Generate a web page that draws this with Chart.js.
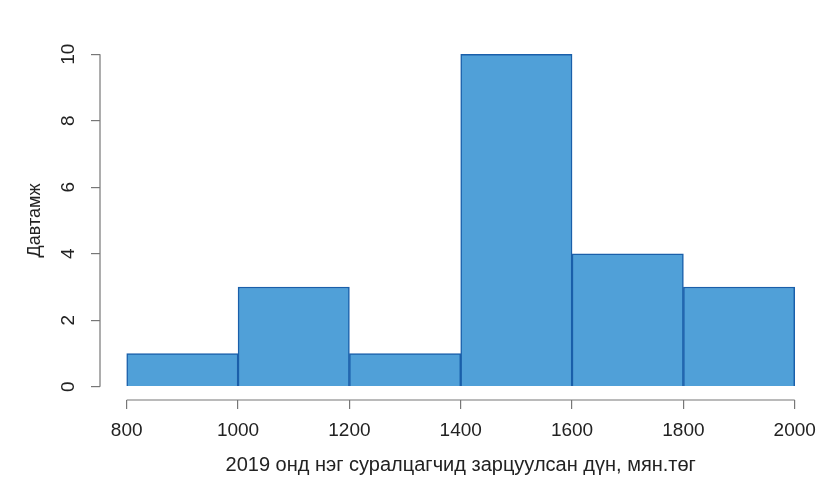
<!DOCTYPE html>
<html>
<head>
<meta charset="utf-8">
<script src="https://cdn.jsdelivr.net/npm/chart.js@4"></script>
<style>
  html, body { margin: 0; padding: 0; background: #fff; }
  #wrap { width: 826px; height: 480px; }
</style>
</head>
<body>
<div id="wrap"><canvas id="hist"></canvas></div>
<script>
// histogram bins (lower/upper edge) and frequencies
const binStart = [800, 1000, 1200, 1400, 1600, 1800];
const binEnd = [1000, 1200, 1400, 1600, 1800, 2000];
const counts = [1, 3, 1, 10, 4, 3];
const xTicks = [800, 1000, 1200, 1400, 1600, 1800, 2000];
const yTicks = [0, 2, 4, 6, 8, 10];

const xTitle = '2019 онд нэг суралцагчид зарцуулсан дүн, мян.төг';
const yTitle = 'Давтамж';

const txt = '#222';
const axisCol = '#777';
const fam = 'Liberation Sans, Arial, sans-serif';
const tickFont = { family: fam, size: 19 };

// R style axis lines: only from first to last tick
const axisLines = {
  id: 'axisLines',
  afterDraw(chart) {
    const ctx = chart.ctx;
    const xs = chart.scales.x, ys = chart.scales.y;
    ctx.save();
    ctx.strokeStyle = axisCol;
    ctx.lineWidth = 1.2;
    ctx.beginPath();
    const yb = chart.chartArea.bottom;
    ctx.moveTo(xs.getPixelForValue(xTicks[0]), yb);
    ctx.lineTo(xs.getPixelForValue(xTicks[xTicks.length - 1]), yb);
    const xl = chart.chartArea.left;
    ctx.moveTo(xl, ys.getPixelForValue(yTicks[0]));
    ctx.lineTo(xl, ys.getPixelForValue(yTicks[yTicks.length - 1]));
    ctx.stroke();
    ctx.restore();
  }
};

new Chart(document.getElementById('hist'), {
  type: 'bar',
  data: {
    datasets: [{
      data: binStart.map((a, i) => ({ x: (a + binEnd[i]) / 2, y: counts[i] })),
      backgroundColor: '#50a0d8',
      borderColor: '#1a5faa',
      borderWidth: 1.5,
      barPercentage: 1,
      categoryPercentage: 1,
      grouped: false
    }]
  },
  options: {
    responsive: true,
    maintainAspectRatio: false,
    animation: false,
    layout: { padding: { top: 41, right: 4, left: 0, bottom: 0 } },
    plugins: { legend: { display: false }, tooltip: { enabled: false } },
    scales: {
      x: {
        type: 'linear',
        offset: false,
        min: 752,
        max: 2048,
        afterBuildTicks(s) { s.ticks = xTicks.map(v => ({ value: v })); },
        afterFit(s) { s.height = 80; },
        border: { display: false },
        grid: { drawOnChartArea: false, offset: false, tickLength: 9, color: axisCol, lineWidth: 1.2 },
        ticks: { color: txt, font: tickFont, padding: 10, maxRotation: 0, autoSkip: false, callback: v => String(v) },
        title: { display: true, text: xTitle, color: txt, font: { family: fam, size: 20 }, padding: { top: 0, bottom: 3 } }
      },
      y: {
        min: -0.4,
        max: 10.4,
        afterBuildTicks(s) { s.ticks = yTicks.map(v => ({ value: v })); },
        afterFit(s) { s.width = 100; },
        border: { display: false },
        grid: { drawOnChartArea: false, tickLength: 9, color: axisCol, lineWidth: 1.2 },
        ticks: { color: txt, font: tickFont, padding: 12, minRotation: 90, maxRotation: 90, crossAlign: 'center' },
        title: { display: true, text: yTitle, color: txt, font: { family: fam, size: 18 }, padding: { top: 24, bottom: 0 } }
      }
    }
  },
  plugins: [axisLines]
});
</script>
</body>
</html>
